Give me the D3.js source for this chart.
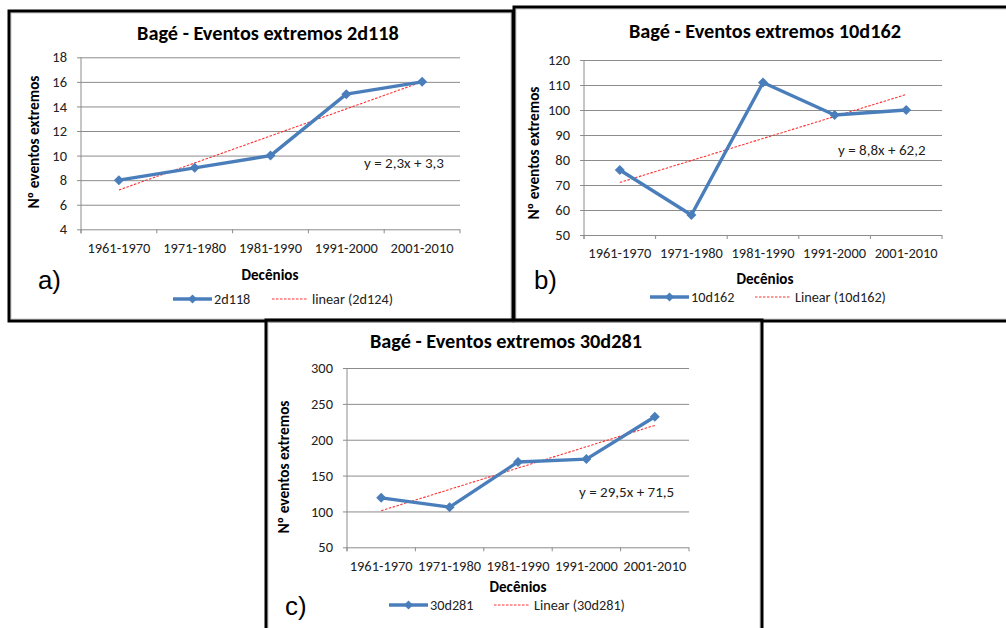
<!DOCTYPE html>
<html>
<head>
<meta charset="utf-8">
<script src="https://cdn.jsdelivr.net/npm/d3@7"></script>
<style>
  html, body { margin: 0; padding: 0; background: #fff; }
  svg { display: block; }
</style>
</head>
<body>
<svg id="fig" width="1006" height="628"></svg>
<script>
const decenios = ["1961-1970", "1971-1980", "1981-1990", "1991-2000", "2001-2010"];

const serie2d118 = [8, 9, 10, 15, 16];
const serie10d162 = [76, 58, 111, 98, 100];
const serie30d281 = [119, 106, 169, 173, 232];

// tendência linear: valor no primeiro e no último decênio
const tend2d118 = [7.2, 16.0];
const tend10d162 = [71, 106.2];
const tend30d281 = [101, 220];

const ticks2d118 = [4, 6, 8, 10, 12, 14, 16, 18];
const ticks10d162 = [50, 60, 70, 80, 90, 100, 110, 120];
const ticks30d281 = [50, 100, 150, 200, 250, 300];

const titulos = ["Bagé - Eventos extremos 2d118", "Bagé - Eventos extremos 10d162", "Bagé - Eventos extremos 30d281"];
const nomesSerie = ["2d118", "10d162", "30d281"];
const nomesTend = ["linear (2d124)", "Linear (10d162)", "Linear (30d281)"];
const equacoes = ["y = 2,3x + 3,3", "y = 8,8x + 62,2", "y = 29,5x + 71,5"];
const letras = ["a)", "b)", "c)"];

const FONT = "Carlito, Lato, sans-serif";
const FONT_LETRA = "Liberation Sans, Arial, sans-serif";
const BLUE = "#4a7ebb";
const GRID = "#8c8c8c";

const svg = d3.select("#fig");

// tamanho de fonte que dá à amostra a largura vista na figura
function ajusta(amostra, largura, peso, familia = FONT) {
  const t = svg.append("text")
    .style("font-family", familia).style("font-weight", peso).style("font-size", "20px")
    .text(amostra);
  const len = t.node().getComputedTextLength();
  t.remove();
  return (20 * largura / len).toFixed(2) + "px";
}
const fsTitulo = ajusta("Bagé - Eventos extremos 2d118", 262, "bold");
const fsTick = ajusta("1961-1970", 63, "normal");
const fsYlab = ajusta("Nº eventos extremos", 133, "bold");
const fsDec = ajusta("Decênios", 57, "bold");
const fsLeg = ajusta("linear (2d124)", 81, "normal");
const fsEq = ajusta("y = 2,3x + 3,3", 80, "normal");
const fsLetra = ajusta("a)", 23, "normal", FONT_LETRA);

// layout de cada painel
const paineis = [
  {box: [9, 11, 513, 321], plot: [81, 57.3, 460, 229.3], title: [268, 40], xlab: 248, dec: [270, 275],
   legY: 299, legX: 173, legX2: 272, eq: [364, 163], letra: [38, 280], ylab: [34, 142],
   dados: serie2d118, tend: tend2d118, ticks: ticks2d118},
  {box: [514, 7, 1012, 321], plot: [584, 60, 942, 235], title: [765, 38], xlab: 253, dec: [765, 279],
   legY: 297, legX: 650, legX2: 755, eq: [838, 150], letra: [534, 280], ylab: [534, 153],
   dados: serie10d162, tend: tend10d162, ticks: ticks10d162},
  {box: [266, 320, 762, 640], plot: [347, 368, 689, 547.3], title: [506, 348], xlab: 566, dec: [518, 587],
   legY: 605, legX: 389, legX2: 494, eq: [579, 492], letra: [285, 606], ylab: [284, 467],
   dados: serie30d281, tend: tend30d281, ticks: ticks30d281},
];

function diamond(g, cx, cy, r) {
  g.append("path")
    .attr("d", `M${cx},${cy - r}L${cx + r},${cy}L${cx},${cy + r}L${cx - r},${cy}Z`)
    .attr("fill", BLUE);
}

paineis.forEach((p, i) => {
  const g = svg.append("g");
  const [bx0, by0, bx1, by1] = p.box;

  // moldura
  g.append("rect")
    .attr("x", bx0 + 2).attr("y", by0 + 2)
    .attr("width", bx1 - bx0 - 4).attr("height", by1 - by0 - 4)
    .attr("fill", "none").attr("stroke", "#c8c8c8").attr("stroke-width", 1);

  const [x0, yTop, x1, yBot] = p.plot;
  const x = d3.scaleBand().domain(decenios).range([x0, x1]).padding(0);
  const y = d3.scaleLinear().domain(d3.extent(p.ticks)).range([yBot, yTop]);

  // grade + rótulos do eixo y
  const yAxis = g.append("g")
    .attr("transform", `translate(${x1},0)`)
    .call(d3.axisLeft(y).tickValues(p.ticks).tickSize(x1 - x0 + 4).tickPadding(10));
  yAxis.select(".domain").remove();
  yAxis.selectAll(".tick line").attr("stroke", GRID).attr("stroke-width", 1);
  yAxis.selectAll(".tick text")
    .attr("fill", "#222").style("font-family", FONT).style("font-size", fsTick);

  // eixo y
  g.append("line").attr("x1", x0).attr("x2", x0).attr("y1", yTop).attr("y2", yBot + 4)
    .attr("stroke", GRID);

  // eixo x
  const xAxis = g.append("g")
    .attr("transform", `translate(0,${yBot})`)
    .call(d3.axisBottom(x).tickSize(0).tickPadding(0));
  xAxis.select(".domain").remove();
  xAxis.selectAll(".tick text")
    .attr("y", p.xlab - yBot).attr("dy", "0.35em")
    .attr("fill", "#222").style("font-family", FONT).style("font-size", fsTick);
  const limites = decenios.map(d => x(d)).concat([x1]);
  g.selectAll(null).data(limites).join("line")
    .attr("x1", d => d).attr("x2", d => d)
    .attr("y1", yBot).attr("y2", yBot + 4)
    .attr("stroke", GRID);

  const cx = d => x(d) + x.bandwidth() / 2;

  // tendência linear
  g.append("line")
    .attr("x1", cx(decenios[0])).attr("y1", y(p.tend[0]))
    .attr("x2", cx(decenios[decenios.length - 1])).attr("y2", y(p.tend[1]))
    .attr("stroke", "#ff3030").attr("stroke-width", 1.1).attr("stroke-dasharray", "2.5,1.5");

  // série
  const line = d3.line().x((d, j) => cx(decenios[j])).y(d => y(d));
  g.append("path").datum(p.dados)
    .attr("d", line)
    .attr("fill", "none").attr("stroke", BLUE).attr("stroke-width", 3.4)
    .attr("stroke-linejoin", "round");
  p.dados.forEach((v, j) => diamond(g, cx(decenios[j]), y(v), 5));

  // título
  g.append("text").attr("x", p.title[0]).attr("y", p.title[1])
    .attr("text-anchor", "middle")
    .style("font-family", FONT).style("font-weight", "bold").style("font-size", fsTitulo)
    .attr("fill", "#000").text(titulos[i]);

  // rótulo do eixo y
  g.append("text")
    .attr("transform", `translate(${p.ylab[0]},${p.ylab[1]}) rotate(-90)`)
    .attr("text-anchor", "middle").attr("dy", "0.35em")
    .style("font-family", FONT).style("font-weight", "bold").style("font-size", fsYlab)
    .attr("fill", "#000").text("Nº eventos extremos");

  // rótulo do eixo x
  g.append("text").attr("x", p.dec[0]).attr("y", p.dec[1])
    .attr("text-anchor", "middle").attr("dy", "0.35em")
    .style("font-family", FONT).style("font-weight", "bold").style("font-size", fsDec)
    .attr("fill", "#000").text("Decênios");

  // equação
  g.append("text").attr("x", p.eq[0]).attr("y", p.eq[1]).attr("dy", "0.35em")
    .style("font-family", FONT).style("font-size", fsEq)
    .attr("fill", "#222").text(equacoes[i]);

  // letra do painel
  g.append("text").attr("x", p.letra[0]).attr("y", p.letra[1]).attr("dy", "0.35em")
    .style("font-family", FONT_LETRA).style("font-size", fsLetra)
    .attr("fill", "#000").text(letras[i]);

  // legenda
  const leg = g.append("g").attr("transform", `translate(0,${p.legY})`);
  leg.append("line").attr("x1", p.legX).attr("x2", p.legX + 39).attr("y1", 0).attr("y2", 0)
    .attr("stroke", BLUE).attr("stroke-width", 3.4);
  diamond(leg, p.legX + 19.5, 0, 4.5);
  leg.append("text").attr("x", p.legX + 41).attr("dy", "0.35em")
    .style("font-family", FONT).style("font-size", fsLeg).attr("fill", "#222")
    .text(nomesSerie[i]);
  leg.append("line").attr("x1", p.legX2).attr("x2", p.legX2 + 36).attr("y1", 0).attr("y2", 0)
    .attr("stroke", "#ff3030").attr("stroke-width", 1.1).attr("stroke-dasharray", "2.5,1.5");
  leg.append("text").attr("x", p.legX2 + 40).attr("dy", "0.35em")
    .style("font-family", FONT).style("font-size", fsLeg).attr("fill", "#222")
    .text(nomesTend[i]);

  // moldura preta
  g.append("rect")
    .attr("x", bx0).attr("y", by0)
    .attr("width", bx1 - bx0).attr("height", by1 - by0)
    .attr("fill", "none").attr("stroke", "#000").attr("stroke-width", 3);
});
</script>
</body>
</html>
